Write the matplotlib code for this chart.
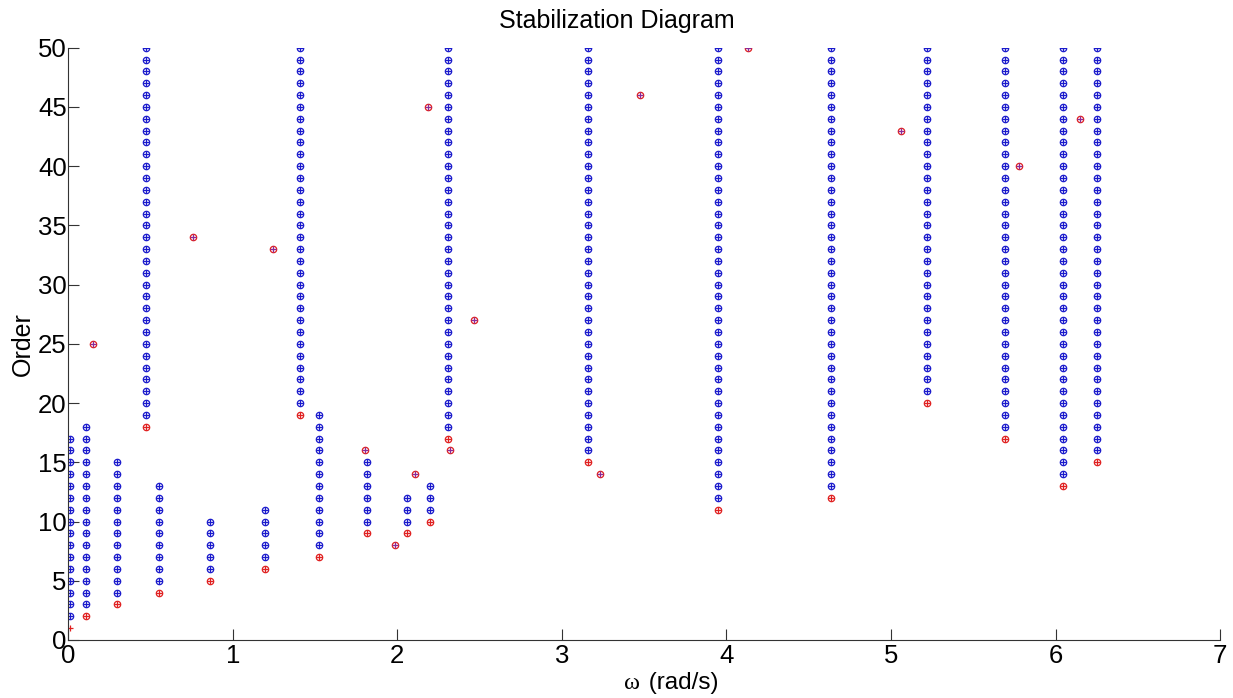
import numpy as np
import matplotlib
matplotlib.use("Agg")
import matplotlib.pyplot as plt

# stable pole columns: frequency (rad/s), order where the pole first shows up, last order
col_freq = [0.01, 0.111, 0.294, 0.47, 0.553, 0.861, 1.196, 1.409, 1.526,
            1.816, 2.056, 2.197, 2.311, 3.161, 3.948, 4.635, 5.222, 5.696,
            6.045, 6.252]
col_first = [1, 2, 3, 18, 4, 5, 6, 19, 7, 9, 9, 10, 17, 15, 11, 12, 20, 17, 13, 15]
col_last = [17, 18, 15, 50, 13, 10, 11, 50, 19, 15, 12, 13, 50, 50, 50, 50, 50, 50, 50, 50]

# isolated poles that never stabilise
lone_freq = [0.148, 0.758, 1.244, 1.805, 1.986, 2.108, 2.187, 2.32, 2.467,
             3.232, 3.475, 4.132, 5.062, 5.78, 6.15]
lone_order = [25, 34, 33, 16, 8, 14, 45, 16, 27, 14, 46, 50, 43, 40, 44]

plt.rcParams["font.family"] = ["Liberation Sans", "DejaVu Sans"]

fig = plt.figure(figsize=(12.33, 6.98), dpi=100)
ax = fig.add_axes([0.0553, 0.0831, 0.9342, 0.8486])

ms = 4.6
blue = "#1a1acc"
red = "#e02020"

for f, first, last in zip(col_freq, col_first, col_last):
    orders = np.arange(first + 1, last + 1)
    ax.plot([f] * len(orders), orders, "o", mfc="none", mec=blue, ms=ms, mew=0.9)
    ax.plot([f] * len(orders), orders, "+", color=blue, ms=ms, mew=0.9)
    # first appearance of the pole
    if first > 1:
        ax.plot(f, first, "o", mfc="none", mec=red, ms=ms, mew=0.9)
    ax.plot(f, first, "+", color=red, ms=ms, mew=0.9)

ax.plot(lone_freq, lone_order, "o", mfc="none", mec=red, ms=ms, mew=0.9)
ax.plot(lone_freq, lone_order, "+", color="#8a2a9a", ms=ms, mew=0.9)

ax.set_xlim(0, 7)
ax.set_ylim(0, 50)
ax.set_xticks(range(0, 8))
ax.set_yticks(range(0, 51, 5))
ax.spines["top"].set_visible(False)
ax.spines["right"].set_visible(False)
for s in ["left", "bottom"]:
    ax.spines[s].set_color("#333333")
ax.tick_params(direction="in", length=8, width=0.8, color="#333333",
               labelsize=18.5)
ax.tick_params(axis="y", pad=1)
ax.tick_params(axis="x", pad=3)

# x label: serif omega followed by the units
fig.text(0.519, 0.006, "ω", fontsize=17.5, family="Liberation Serif",
         ha="right", va="bottom")
fig.text(0.521, 0.006, " (rad/s)", fontsize=17.5, ha="left", va="bottom")
ax.set_ylabel("Order", fontsize=18, labelpad=2)
ax.set_title("Stabilization Diagram", fontsize=18, pad=14, x=0.476)

fig.savefig("out.png", dpi=100)
